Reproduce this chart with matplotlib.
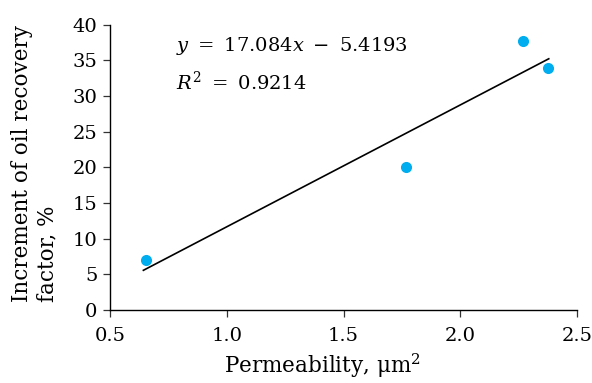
import matplotlib
matplotlib.use("Agg")
import matplotlib.pyplot as plt
import numpy as np

# data
permeability = [0.653, 1.766, 2.267, 2.374]
increment = [7.0, 20.0, 37.7, 33.9]
slope = 17.084
intercept = -5.4193
r2 = 0.9214
x_ticks = [0.5, 1.0, 1.5, 2.0, 2.5]
y_ticks = [0, 5, 10, 15, 20, 25, 30, 35, 40]

plt.rcParams['font.family'] = ['DejaVu Serif']
plt.rcParams['mathtext.fontset'] = 'dejavuserif'

fig = plt.figure(figsize=(5.92, 3.83), dpi=100)
ax = fig.add_axes([0.1858, 0.1906, 0.7889, 0.7449])

# trend line over the data range
xf = np.array([min(permeability) - 0.01, max(permeability) + 0.005])
ax.plot(xf, slope * xf + intercept, color='black', lw=1.2, zorder=2)
ax.plot(permeability, increment, 'o', color='#00aeef', ms=8, mec='none', zorder=3)

ax.set_xlim(0.5, 2.5)
ax.set_ylim(0, 40)
ax.set_xticks(x_ticks)
ax.set_xticklabels(['%.1f' % v for v in x_ticks])
ax.set_yticks(y_ticks)
ax.tick_params(labelsize=14, length=5, width=0.9, color='#333333')
ax.tick_params(axis='x', pad=7)
ax.tick_params(axis='y', pad=4)
for s in ['top', 'right']:
    ax.spines[s].set_visible(False)
for s in ['left', 'bottom']:
    ax.spines[s].set_linewidth(1.0)

ax.set_xlabel('Permeability, μm$^2$', fontsize=15.5, va='bottom')
ax.xaxis.set_label_coords(0.454, -0.245)
ax.set_ylabel('Increment of oil recovery\nfactor, %', fontsize=15.5,
              multialignment='left', linespacing=1.2)
ax.yaxis.set_label_coords(-0.11, 0.515)

eq = r'$y\ =\ 17.084x\ -\ 5.4193$'
ax.text(0.142, 0.925, eq, transform=ax.transAxes, fontsize=14, va='center')
ax.text(0.142, 0.80, r'$R^2\ =\ 0.9214$', transform=ax.transAxes, fontsize=14, va='center')

fig.savefig('out.png', dpi=100)
